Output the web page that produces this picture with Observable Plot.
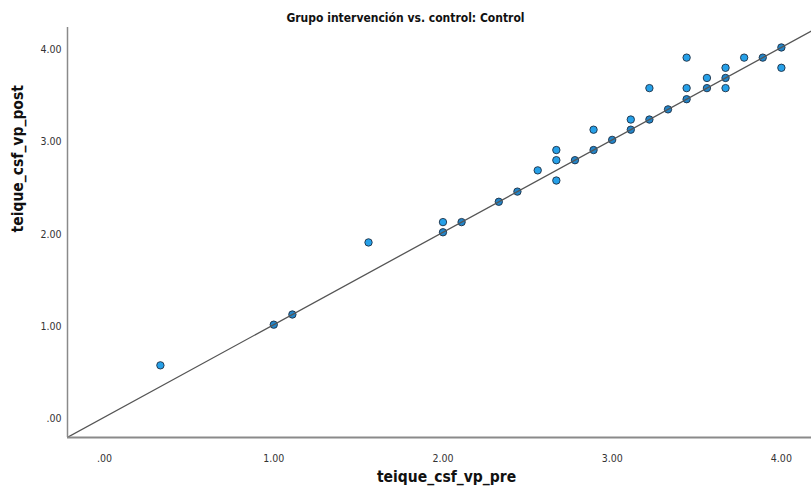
<!DOCTYPE html>
<html>
<head>
<meta charset="utf-8">
<script src="https://cdn.jsdelivr.net/npm/d3@7"></script>
<script src="https://cdn.jsdelivr.net/npm/@observablehq/plot@0.6"></script>
<style>
  html, body { margin: 0; padding: 0; background: #fff; }
  #chart { width: 811px; height: 489px; overflow: hidden; }
</style>
</head>
<body>
<div id="chart"></div>
<script>
// ---- Data ----
const pre  = [0.33, 1.00, 1.11, 1.56, 2.00, 2.00, 2.11, 2.33, 2.44, 2.56, 2.67, 2.67, 2.67, 2.78, 2.89, 2.89, 3.00, 3.11, 3.11, 3.22, 3.22, 3.33, 3.44, 3.44, 3.44, 3.56, 3.56, 3.67, 3.67, 3.67, 3.78, 3.89, 4.00, 4.00];
const post = [0.56, 1.00, 1.11, 1.89, 2.00, 2.11, 2.11, 2.33, 2.44, 2.67, 2.56, 2.78, 2.89, 2.78, 2.89, 3.11, 3.00, 3.11, 3.22, 3.22, 3.56, 3.33, 3.44, 3.56, 3.89, 3.56, 3.67, 3.56, 3.67, 3.78, 3.89, 3.89, 4.00, 3.78];
const tickValues = [0, 1, 2, 3, 4];
const xDomain = [-0.219, 4.178];
const yDomain = [-0.221, 4.216];
const titleText = "Grupo intervención vs. control: Control";
const xLabel = "teique_csf_vp_pre";
const yLabel = "teique_csf_vp_post";

const points = pre.map((p, i) => ({pre: p, post: post[i]}));
const fmt = d => d === 0 ? ".00" : d.toFixed(2);
const font = "'DejaVu Sans Condensed', 'Liberation Sans Narrow', sans-serif";

const chart = Plot.plot({
  width: 811,
  height: 489,
  marginTop: 27,
  marginBottom: 52,
  marginLeft: 67,
  marginRight: 0,
  style: {fontFamily: font, background: "#fff", overflow: "visible"},
  x: {domain: xDomain, ticks: tickValues, tickFormat: fmt, label: null},
  y: {domain: yDomain, ticks: tickValues, tickFormat: fmt, label: null},
  marks: [
    Plot.axisX({ticks: tickValues, tickFormat: fmt, tickSize: 0, tickPadding: 17, fontSize: 10.5, color: "#333", label: null}),
    Plot.axisY({ticks: tickValues, tickFormat: fmt, tickSize: 0, tickPadding: 6, dy: 2, fontSize: 10.5, color: "#333", label: null}),
    Plot.dot(points, {
      x: "pre", y: "post", r: 3.7,
      fill: d => d.pre === d.post ? "#2385c8" : "#26a0e8",
      stroke: "#1c2f44", strokeWidth: 0.9
    }),
    Plot.line(xDomain.concat([Math.max(xDomain[1], yDomain[1])]), {x: d => d, y: d => d, stroke: "#555", strokeWidth: 1.3, clip: true}),
    Plot.ruleX([xDomain[0]], {stroke: "#8a8a8a", strokeWidth: 1.5}),
    Plot.ruleY([yDomain[0]], {stroke: "#8a8a8a", strokeWidth: 2}),
    Plot.text([titleText], {text: d => d, frameAnchor: "top", dy: -14, dx: -34, fontSize: 12, fontWeight: "bold", fill: "#111"}),
    Plot.text([xLabel], {text: d => d, frameAnchor: "bottom", dy: 44, dx: 7, fontSize: 15.5, fontWeight: "bold", fill: "#111"}),
    Plot.text([yLabel], {text: d => d, frameAnchor: "left", dx: -49, rotate: -90, fontSize: 15.5, fontWeight: "bold", fill: "#111"})
  ]
});
document.getElementById("chart").appendChild(chart);
</script>
</body>
</html>
